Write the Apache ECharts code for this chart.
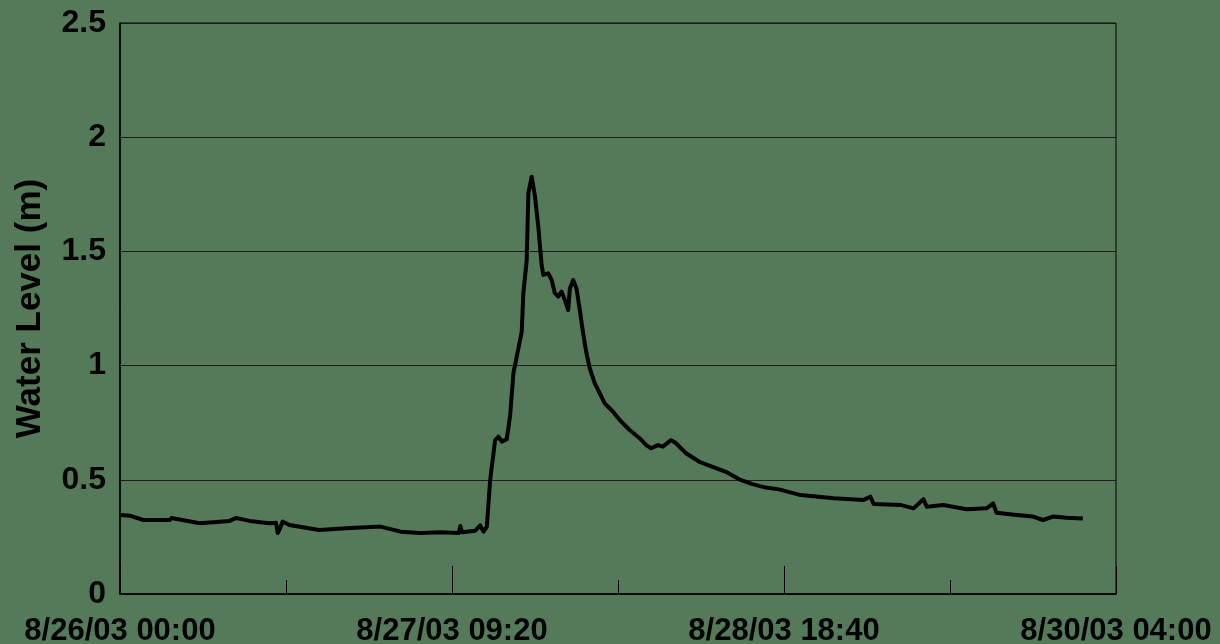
<!DOCTYPE html>
<html>
<head>
<meta charset="utf-8">
<script src="https://cdn.jsdelivr.net/npm/echarts@6/dist/echarts.min.js"></script>
<style>
html,body{margin:0;padding:0;background:#557a5a;}
#chart{width:1220px;height:644px;}
</style>
</head>
<body>
<div id="chart"></div>
<script>
// Elapsed minutes since 8/26/03 00:00
const minutes = [0,60,140,300,310,480,660,700,780,900,940,950,960,980,1020,1200,1390,1570,1690,1810,1930,2040,2050,2060,2140,2170,2190,2210,2230,2260,2280,2300,2330,2350,2370,2390,2420,2430,2440,2450,2460,2480,2500,2520,2540,2550,2580,2600,2620,2640,2660,2680,2700,2710,2730,2750,2770,2790,2810,2830,2860,2890,2920,2970,3010,3070,3130,3170,3200,3240,3270,3320,3350,3410,3490,3570,3650,3730,3810,3890,3970,4100,4300,4480,4520,4540,4700,4780,4840,4860,4960,5100,5220,5260,5280,5400,5500,5560,5620,5700,5800];
// Water level (m)
const waterLevel = [0.346,0.343,0.324,0.324,0.333,0.31,0.32,0.333,0.32,0.31,0.312,0.267,0.28,0.317,0.302,0.28,0.289,0.295,0.273,0.267,0.27,0.267,0.298,0.27,0.277,0.30,0.273,0.295,0.5,0.674,0.689,0.667,0.678,0.78,0.967,1.039,1.148,1.318,1.39,1.46,1.755,1.827,1.74,1.608,1.44,1.397,1.404,1.375,1.317,1.302,1.324,1.287,1.243,1.338,1.375,1.338,1.243,1.141,1.054,0.988,0.922,0.879,0.835,0.798,0.762,0.718,0.682,0.652,0.638,0.652,0.645,0.674,0.66,0.616,0.579,0.557,0.535,0.502,0.481,0.466,0.458,0.433,0.419,0.412,0.426,0.394,0.39,0.375,0.415,0.382,0.39,0.371,0.375,0.397,0.356,0.346,0.339,0.324,0.339,0.334,0.331];
const xTickLabels = ['8/26/03 00:00','8/27/03 09:20','8/28/03 18:40','8/30/03 04:00'];
const yTitle = 'Water Level (m)';

const chart = echarts.init(document.getElementById('chart'), null, {renderer:'canvas'});
const font = "'Liberation Sans', Arial, sans-serif";
chart.setOption({
  backgroundColor: '#557a5a',
  animation: false,
  grid: {left:120, right:104, top:23, bottom:50, show:true, borderColor:'#000', borderWidth:1,
    containLabel:false, outerBoundsMode:'none'},
  xAxis: {
    type:'value', min:0, max:6000, interval:2000,
    axisLine:{show:true, lineStyle:{color:'#000', width:1.5}},
    axisTick:{show:true, inside:true, length:28, lineStyle:{color:'#000', width:1}},
    minorTick:{show:true, splitNumber:2, length:14, lineStyle:{color:'#000', width:1}},
    splitLine:{show:false},
    axisLabel:{
      color:'#000', fontFamily:font, fontWeight:'bold', fontSize:31, margin:22,
      showMinLabel:true, showMaxLabel:true, hideOverlap:false,
      formatter: v => xTickLabels[Math.round(v/2000)]
    }
  },
  yAxis: {
    type:'value', min:0, max:2.5, interval:0.5,
    name: yTitle, nameLocation:'middle', nameGap:72, nameRotate:90,
    nameTextStyle:{color:'#000', fontFamily:font, fontWeight:'bold', fontSize:35},
    axisLine:{show:true, lineStyle:{color:'#000', width:1.5}},
    axisTick:{show:false},
    splitLine:{show:true, lineStyle:{color:'#1c1c1c', width:1}},
    axisLabel:{color:'#000', fontFamily:font, fontWeight:'bold', fontSize:32, margin:14,
      formatter: v => String(v)}
  },
  series: [{
    type:'line', showSymbol:false, symbol:'none',
    data: minutes.map((m,i)=>[m, waterLevel[i]]),
    lineStyle:{color:'#000', width:4, join:'round'},
    smooth:false
  }]
});
</script>
</body>
</html>
